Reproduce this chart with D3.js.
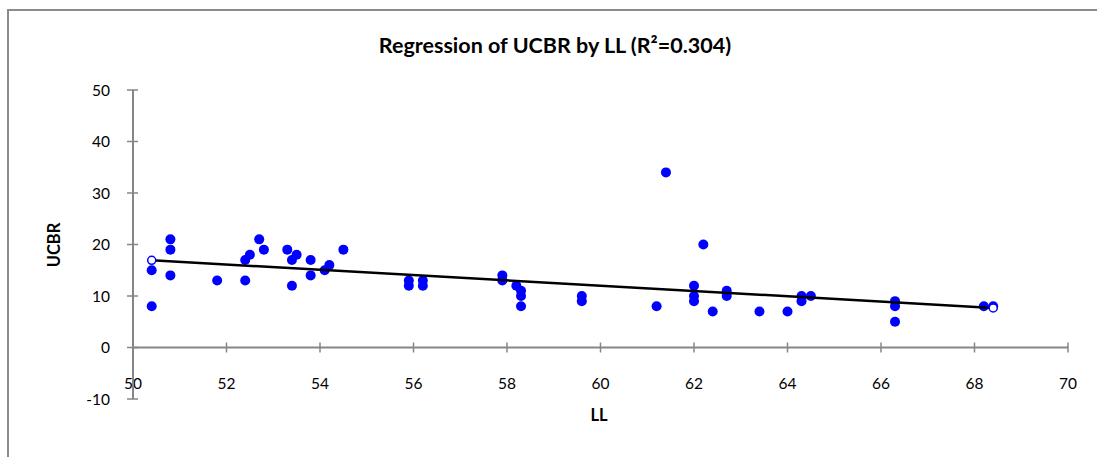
<!DOCTYPE html>
<html>
<head>
<meta charset="utf-8">
<script src="https://cdn.jsdelivr.net/npm/d3@7"></script>
<style>
  body { margin: 0; background: #fff; }
  svg { display: block; font-family: Lato, "Open Sans", sans-serif; }
</style>
</head>
<body>
<script>
var ll = [50.4, 50.4, 50.8, 50.8, 50.8, 51.8, 52.4, 52.4, 52.5, 52.7,
          52.8, 53.3, 53.4, 53.5, 53.4, 53.8, 53.8, 54.1, 54.2, 54.5,
          55.9, 55.9, 56.2, 56.2, 57.9, 57.9, 58.2, 58.3, 58.3, 58.3,
          59.6, 59.6, 61.4, 62.2, 61.2, 62.0, 62.0, 62.0, 62.4, 62.7,
          62.7, 63.4, 64.0, 64.3, 64.3, 64.5, 66.3, 66.3, 66.3, 68.2, 68.4];
var ucbr = [15, 8, 21, 19, 14, 13, 13, 17, 18, 21,
            19, 19, 17, 18, 12, 17, 14, 15, 16, 19,
            13, 12, 13, 12, 14, 13, 12, 11, 10, 8,
            10, 9, 34, 20, 8, 12, 10, 9, 7, 11,
            10, 7, 7, 10, 9, 10, 9, 8, 5, 8, 8];
var xTicks = [50, 52, 54, 56, 58, 60, 62, 64, 66, 68, 70];
var yTicks = [-10, 0, 10, 20, 30, 40, 50];
var chartTitle = "Regression of UCBR by LL (R²=0.304)";

window.onload = drawChart();

function drawChart(){
    var width = 1097,
        height = 457;

    var svg = d3.select("body")
        .append("svg")
        .attr("width", width)
        .attr("height", height);

    // outer frame (right/bottom edges fall outside the picture)
    svg.append("path")
        .attr("d", "M8,457V10H1097")
        .attr("fill", "none")
        .attr("stroke", "#8c8c8c")
        .attr("stroke-width", 2);

    var x = d3.scaleLinear().domain([50, 70]).range([133, 1068]);
    var y = d3.scaleLinear().domain([-10, 50]).range([399, 90]);

    var axisColor = "#868686";

    //x axis sits on y = 0
    var gx = svg.append("g").attr("transform", "translate(0," + y(0) + ")");
    gx.append("line")
        .attr("x1", x(50)).attr("x2", x(70))
        .attr("stroke", axisColor).attr("stroke-width", 2);
    gx.selectAll(".xt")
        .data(xTicks)
        .enter()
        .append("line")
        .attr("x1", function(d){ return x(d); })
        .attr("x2", function(d){ return x(d); })
        .attr("y1", -5).attr("y2", 5)
        .attr("stroke", axisColor).attr("stroke-width", 1.5);
    svg.selectAll(".xl")
        .data(xTicks)
        .enter()
        .append("text")
        .attr("x", function(d){ return x(d); })
        .attr("y", 389)
        .attr("text-anchor", "middle")
        .attr("font-size", 15.5)
        .attr("fill", "#000")
        .text(function(d){ return d; });

    //y axis
    var gy = svg.append("g").attr("transform", "translate(" + x(50) + ",0)");
    gy.append("line")
        .attr("y1", y(-10)).attr("y2", y(50))
        .attr("stroke", axisColor).attr("stroke-width", 2);
    gy.selectAll(".yt")
        .data(yTicks)
        .enter()
        .append("line")
        .attr("x1", -6).attr("x2", 5)
        .attr("y1", function(d){ return y(d); })
        .attr("y2", function(d){ return y(d); })
        .attr("stroke", axisColor).attr("stroke-width", 1.5);
    svg.selectAll(".yl")
        .data(yTicks)
        .enter()
        .append("text")
        .attr("x", 110)
        .attr("y", function(d){ return y(d) + 5.5; })
        .attr("text-anchor", "end")
        .attr("font-size", 15.5)
        .attr("fill", "#000")
        .text(function(d){ return d; });

    //titles
    svg.append("text")
        .attr("x", 555).attr("y", 53)
        .attr("text-anchor", "middle")
        .attr("font-size", 21.5).attr("font-weight", "bold")
        .text(chartTitle);
    svg.append("text")
        .attr("x", 599).attr("y", 421)
        .attr("text-anchor", "middle")
        .attr("font-size", 16.5).attr("font-weight", "bold")
        .text("LL");
    svg.append("text")
        .attr("transform", "translate(60,245) rotate(-90)")
        .attr("text-anchor", "middle")
        .attr("font-size", 16.5).attr("font-weight", "bold")
        .text("UCBR");

    //points
    var pts = ll.map(function(v, i){ return [v, ucbr[i]]; });
    svg.selectAll(".dot")
        .data(pts)
        .enter()
        .append("circle")
        .attr("cx", function(d){ return x(d[0]); })
        .attr("cy", function(d){ return y(d[1]); })
        .attr("r", 5)
        .attr("fill", "#0000ff");

    //least squares fit
    var mx = d3.mean(ll), my = d3.mean(ucbr);
    var sxy = d3.sum(ll, function(v, i){ return (v - mx) * (ucbr[i] - my); });
    var sxx = d3.sum(ll, function(v){ return (v - mx) * (v - mx); });
    var b = sxy / sxx, a = my - b * mx;
    var ends = d3.extent(ll).map(function(v){ return [v, a + b * v]; });

    svg.append("path")
        .datum(ends)
        .attr("d", d3.line()
            .x(function(d){ return x(d[0]); })
            .y(function(d){ return y(d[1]); }))
        .attr("stroke", "#000")
        .attr("stroke-width", 2.5)
        .attr("fill", "none");
    svg.selectAll(".endp")
        .data(ends)
        .enter()
        .append("circle")
        .attr("cx", function(d){ return x(d[0]); })
        .attr("cy", function(d){ return y(d[1]); })
        .attr("r", 4)
        .attr("fill", "#fff")
        .attr("stroke", "#0000ff")
        .attr("stroke-width", 1.5);
};
</script>
</body>
</html>
